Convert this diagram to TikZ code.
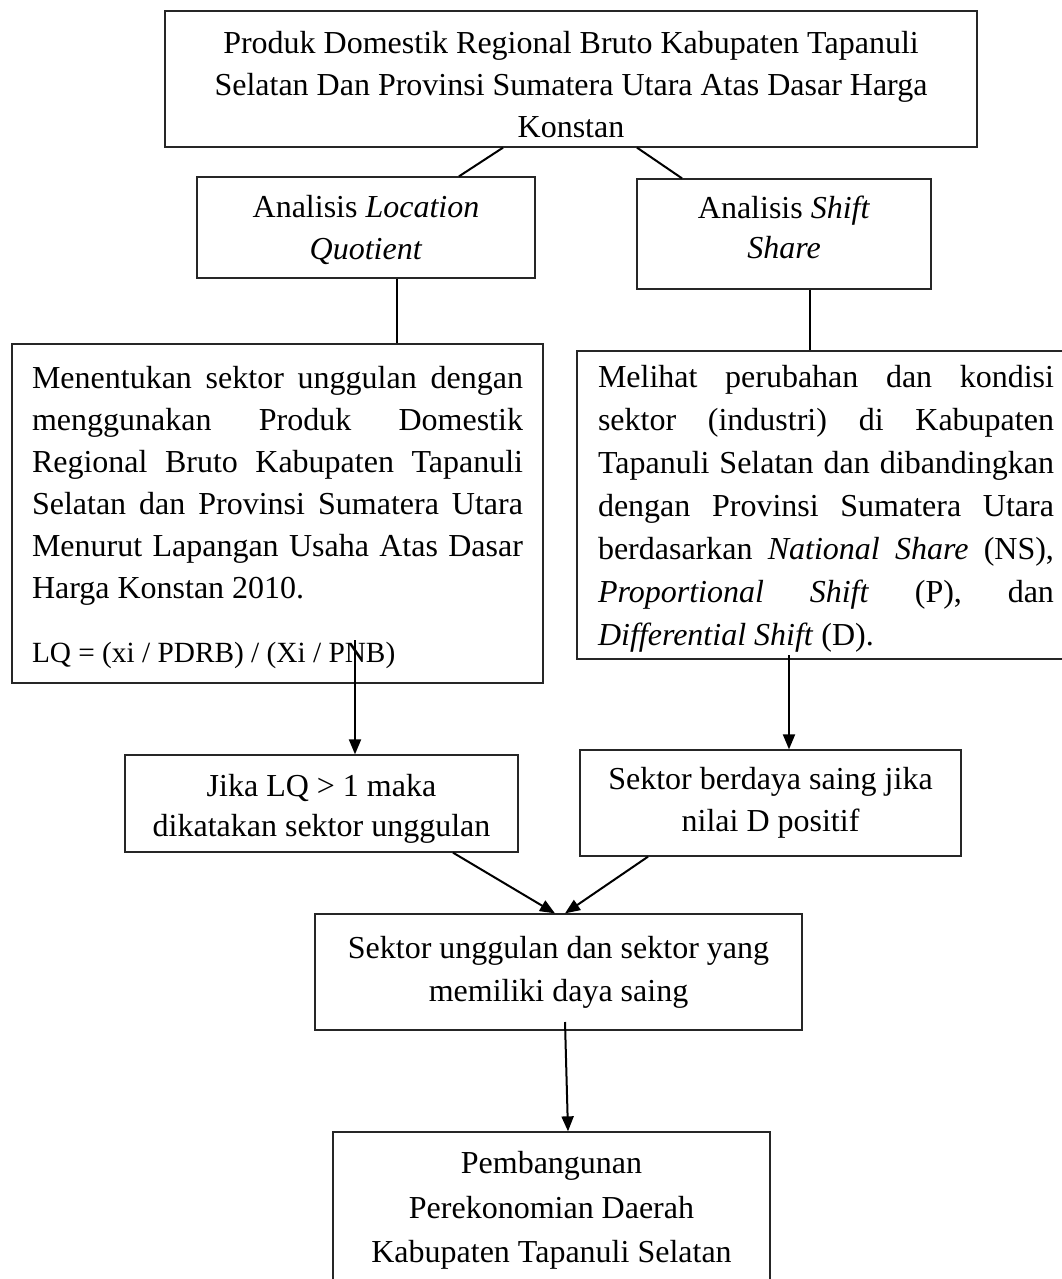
\documentclass[tikz,border=0pt]{standalone}
\usepackage{fontspec}
\setmainfont{Liberation Serif}
\usetikzlibrary{arrows.meta}
\begin{document}
\begin{tikzpicture}[x=1pt,y=-1pt,
  box/.style={draw=black!85, line width=1.3pt, inner sep=0pt, font=\fontsize{32}{42}\selectfont},
  conn/.style={line width=2pt},
  arr/.style={line width=2pt, -{Triangle[length=15pt,width=12pt]}}]
\clip (0,0) rectangle (1062,1279);
\node[box, minimum width=812pt, minimum height=136pt, align=center] (top) at (571,79)
  {\rule{0pt}{34pt}Produk Domestik Regional Bruto Kabupaten Tapanuli\\Selatan Dan Provinsi Sumatera Utara Atas Dasar Harga\\Konstan};
\node[box, minimum width=338pt, minimum height=101pt, align=center] (lq) at (366,227.5)
  {\rule{0pt}{27pt}Analisis \textit{Location}\\\textit{Quotient}};
\node[box, minimum width=294pt, minimum height=110pt, align=center, font=\fontsize{32}{40}\selectfont] (ss) at (784,234)
  {Analisis \textit{Shift}\\\textit{Share}\rule[-13pt]{0pt}{0pt}};
\node[box, minimum width=531pt, minimum height=339pt, text width=491pt, align=justify] (lqdesc) at (277.5,513.5)
  {\noindent\rule{0pt}{31pt}Menentukan sektor unggulan dengan\linebreak menggunakan Produk Domestik\linebreak Regional Bruto Kabupaten Tapanuli\linebreak Selatan dan Provinsi Sumatera Utara\linebreak Menurut Lapangan Usaha Atas Dasar\linebreak Harga Konstan 2010.\par
   \vspace{26pt}{\fontsize{29.3}{38}\selectfont\noindent LQ = (xi / PDRB) / (Xi / PNB)\par}};
\node[box, minimum width=498pt, minimum height=308pt, text width=456pt, align=justify, font=\fontsize{32}{43}\selectfont] (ssdesc) at (826,505)
  {\noindent\rule{0pt}{30pt}Melihat perubahan dan kondisi\linebreak sektor (industri) di Kabupaten\linebreak Tapanuli Selatan dan dibandingkan\linebreak dengan Provinsi Sumatera Utara\linebreak berdasarkan \textit{National Share} (NS),\linebreak \textit{Proportional Shift} (P), dan\linebreak \textit{Differential Shift} (D).\par};
\node[box, minimum width=393pt, minimum height=97pt, align=center, font=\fontsize{32}{40}\selectfont] (jika) at (321.5,803.5)
  {\rule{0pt}{33pt}Jika LQ > 1 maka\\dikatakan sektor unggulan};
\node[box, minimum width=381pt, minimum height=106pt, align=center] (berdaya) at (770.5,803)
  {Sektor berdaya saing jika\\nilai D positif};
\node[box, minimum width=487pt, minimum height=116pt, align=center, font=\fontsize{32}{43}\selectfont] (unggul) at (558.5,972)
  {Sektor unggulan dan sektor yang\\memiliki daya saing};
\node[box, minimum width=437pt, minimum height=152pt, align=center, font=\fontsize{32}{44.5}\selectfont] (pemb) at (551.5,1208)
  {\rule{0pt}{27pt}Pembangunan\\Perekonomian Daerah\\Kabupaten Tapanuli Selatan};
\coordinate (s1) at (355,640);
\coordinate (s2) at (789,655);
\coordinate (s3) at (565,1022);
\draw[conn] (503,0 |- top.south) -- (459,0 |- lq.north);
\draw[conn] (637,0 |- top.south) -- (682,0 |- ss.north);
\draw[conn] (397,0 |- lq.south) -- (397,0 |- lqdesc.north);
\draw[conn] (810,0 |- ss.south) -- (810,0 |- ssdesc.north);
\draw[arr] (s1) -- (s1 |- jika.north);
\draw[arr] (s2) -- (s2 |- berdaya.north);
\draw[arr] (453,0 |- jika.south) -- (555,0 |- unggul.north);
\draw[arr] (648,0 |- berdaya.south) -- (565,0 |- unggul.north);
\draw[arr] (s3) -- (568,0 |- pemb.north);
\end{tikzpicture}
\end{document}
